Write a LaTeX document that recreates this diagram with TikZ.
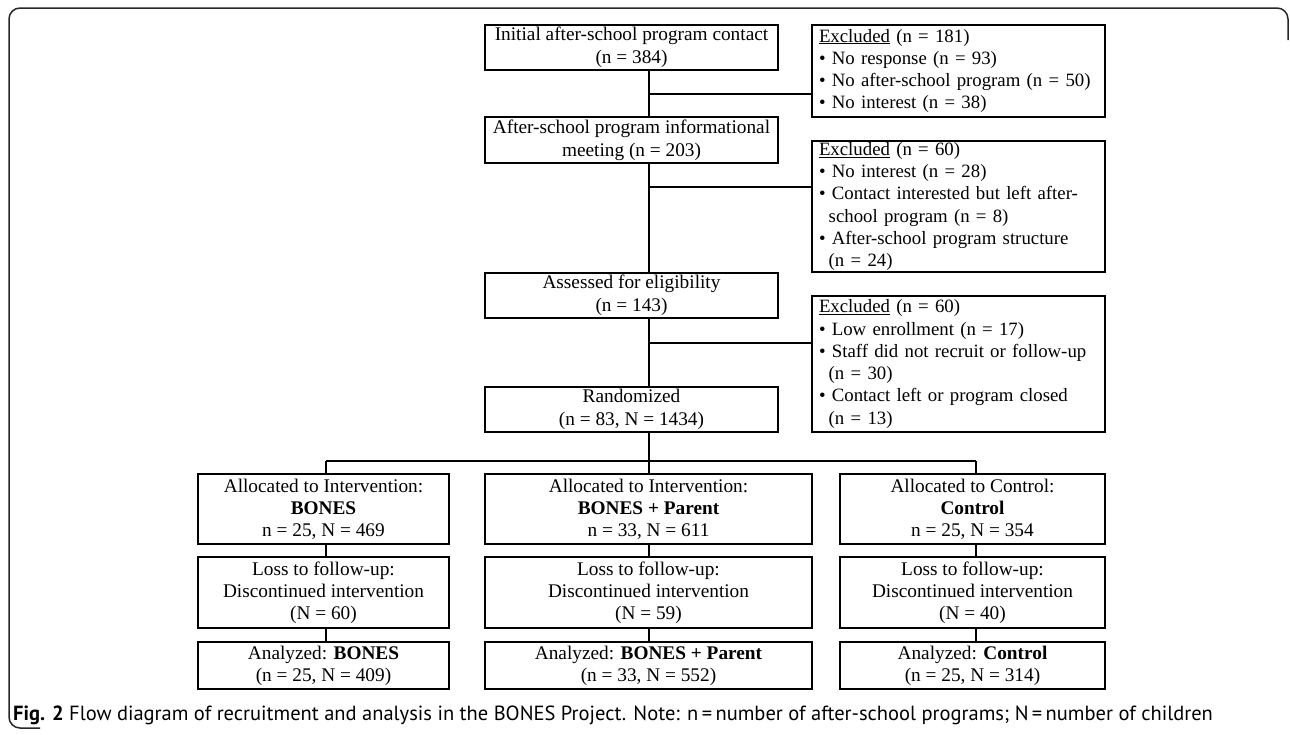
\documentclass[tikz,border=0pt]{standalone}
\usepackage{fontspec}
\setmainfont{Liberation Serif}
\newfontfamily\capfont{PT Sans}
\begin{document}
\begin{tikzpicture}[x=1pt,y=-1pt,
  box/.style={draw, line width=1.1pt, inner sep=0pt, align=center, font=\fontsize{19.3}{23}\selectfont},
  lbox/.style={draw, line width=1.1pt, inner sep=0pt, align=center, font=\fontsize{19.3}{22}\selectfont},
  exbox/.style={draw, line width=1.1pt, inner sep=0pt, inner xsep=7pt, align=left, text width=279pt, font=\fontsize{18.8}{22.3}\selectfont},
  conn/.style={line width=1.1pt},
  frame/.style={line width=1.5pt, rounded corners=11pt, black!85}]
\useasboundingbox (0,0) rectangle (1290,734);
\draw[frame] (40,728) -- (9,728) -- (9,8) -- (1288,8) -- (1288,40);

% main column
\node[box, minimum width=293pt, minimum height=45pt] (init) at (631.5,47.5) {Initial after-school program contact\\(n = 384)};
\node[box, minimum width=293pt, minimum height=46pt] (meet) at (631.5,140) {After-school program informational\\meeting (n = 203)};
\node[box, minimum width=293pt, minimum height=45pt] (elig) at (631.5,295.5) {Assessed for eligibility\\(n = 143)};
\node[box, minimum width=293pt, minimum height=45pt] (rand) at (631.5,409.5) {Randomized\\(n = 83, N = 1434)};

% exclusion boxes
\node[exbox, minimum height=92pt] (ex1) at (958.5,71) {\underline{Excluded} (n = 181)\\
• No response (n = 93)\\
• No after-school program (n = 50)\\
• No interest (n = 38)};
\node[exbox, minimum height=131pt] (ex2) at (958.5,206.5) {\underline{Excluded} (n = 60)\\
• No interest (n = 28)\\
• Contact interested but left after-\\
\phantom{•}\,school program (n = 8)\\
• After-school program structure\\
\phantom{•}\,(n = 24)};
\node[exbox, minimum height=136pt] (ex3) at (958.5,364) {\underline{Excluded} (n = 60)\\
• Low enrollment (n = 17)\\
• Staff did not recruit or follow-up\\
\phantom{•}\,(n = 30)\\
• Contact left or program closed\\
\phantom{•}\,(n = 13)};

% allocation boxes
\node[lbox, minimum width=251pt, minimum height=70pt] (allA) at (323.5,509) {Allocated to Intervention:\\\textbf{BONES}\\n = 25, N = 469};
\node[lbox, minimum width=327pt, minimum height=70pt] (allB) at (648.5,509) {Allocated to Intervention:\\\textbf{BONES + Parent}\\n = 33, N = 611};
\node[lbox, minimum width=265pt, minimum height=70pt] (allC) at (972.5,509) {Allocated to Control:\\\textbf{Control}\\n = 25, N = 354};

\node[lbox, minimum width=251pt, minimum height=71pt] (lossA) at (323.5,592.5) {Loss to follow-up:\\Discontinued intervention\\(N = 60)};
\node[lbox, minimum width=327pt, minimum height=71pt] (lossB) at (648.5,592.5) {Loss to follow-up:\\Discontinued intervention\\(N = 59)};
\node[lbox, minimum width=265pt, minimum height=71pt] (lossC) at (972.5,592.5) {Loss to follow-up:\\Discontinued intervention\\(N = 40)};

\node[lbox, minimum width=251pt, minimum height=47pt] (anA) at (323.5,665.5) {Analyzed: \textbf{BONES}\\(n = 25, N = 409)};
\node[lbox, minimum width=327pt, minimum height=47pt] (anB) at (648.5,665.5) {Analyzed: \textbf{BONES + Parent}\\(n = 33, N = 552)};
\node[lbox, minimum width=265pt, minimum height=47pt] (anC) at (972.5,665.5) {Analyzed: \textbf{Control}\\(n = 25, N = 314)};

% connectors
\coordinate (c) at (649,0);
\coordinate (j1) at (649,94);
\coordinate (j2) at (649,187);
\coordinate (j3) at (649,343);
\coordinate (sp) at (649,461);
\coordinate (cA) at (326,0);
\coordinate (cC) at (976,0);
\draw[conn] (init.south -| c) -- (meet.north -| c);
\draw[conn] (j1) -- (j1 -| ex1.west);
\draw[conn] (meet.south -| c) -- (elig.north -| c);
\draw[conn] (j2) -- (j2 -| ex2.west);
\draw[conn] (elig.south -| c) -- (rand.north -| c);
\draw[conn] (j3) -- (j3 -| ex3.west);
\draw[conn] (rand.south -| c) -- (sp);
\draw[conn] (cA |- sp) -- (cC |- sp);
\draw[conn] (cA |- sp) -- (allA.north -| cA);
\draw[conn] (sp) -- (allB.north -| c);
\draw[conn] (cC |- sp) -- (allC.north -| cC);
\draw[conn] (allA.south -| cA) -- (lossA.north -| cA);
\draw[conn] (allB.south -| c) -- (lossB.north -| c);
\draw[conn] (allC.south -| cC) -- (lossC.north -| cC);
\draw[conn] (lossA.south -| cA) -- (anA.north -| cA);
\draw[conn] (lossB.south -| c) -- (anB.north -| c);
\draw[conn] (lossC.south -| cC) -- (anC.north -| cC);

% caption
\node[anchor=base west, inner sep=0pt, font=\capfont\fontsize{20.5}{24}\selectfont] (cap) at (13,720) {\textbf{Fig. 2} Flow diagram of recruitment and analysis in the BONES Project. Note: n\,=\,number of after-school programs; N\,=\,number of children};
\end{tikzpicture}
\end{document}
